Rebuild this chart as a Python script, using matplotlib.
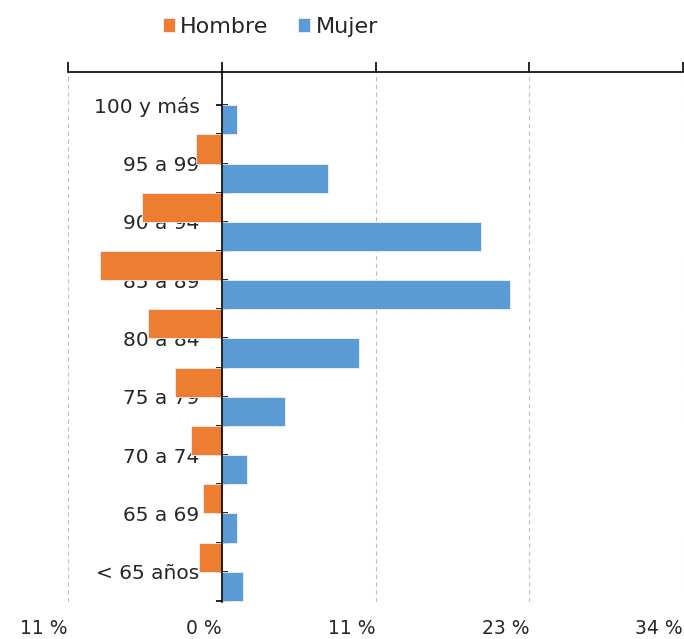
import numpy as np
import matplotlib
matplotlib.use('Agg')
import matplotlib.pyplot as plt
from matplotlib.ticker import FixedLocator, FuncFormatter

grupos = ['< 65 años', '65 a 69', '70 a 74', '75 a 79', '80 a 84',
          '85 a 89', '90 a 94', '95 a 99', '100 y más']
hombre = [1.7, 1.4, 2.3, 3.5, 5.5, 9.0, 5.9, 1.9, 0.0]
mujer = [1.6, 1.1, 1.9, 4.7, 10.2, 21.4, 19.2, 7.9, 1.1]
xticks = [-11.4, 0, 11.4, 22.8, 34.2]

naranja = '#ED7D31'
azul = '#5B9BD5'
texto = '#262626'

plt.rcParams['font.family'] = 'DejaVu Sans'

fig = plt.figure(figsize=(6.84, 6.39), dpi=100)
ax = fig.add_axes([68 / 684, 1 - 602 / 639, 615 / 684, 530 / 639])

y = np.arange(len(grupos))
ax.barh(y + 0.25, -np.array(hombre), height=0.5, color=naranja,
        edgecolor='#f0f0f0', linewidth=0.6, label='Hombre', zorder=2)
ax.barh(y - 0.25, mujer, height=0.5, color=azul,
        edgecolor='#f0f0f0', linewidth=0.6, label='Mujer', zorder=2)

ax.set_xlim(-11.4, 34.2)
ax.set_ylim(-0.52, 8.57)

# spines
ax.spines['right'].set_visible(False)
ax.spines['bottom'].set_visible(False)
ax.spines['left'].set_position(('data', 0))
ax.spines['left'].set_zorder(3)
for s in ['left', 'top']:
    ax.spines[s].set_linewidth(1.2)
    ax.spines[s].set_color('black')

# x axis: ticks on top, labels at bottom
ax.xaxis.set_major_locator(FixedLocator(xticks))
ax.xaxis.set_major_formatter(FuncFormatter(lambda v, p: f'{abs(round(v)):.0f} %'))
ax.tick_params(axis='x', top=True, bottom=False, labeltop=False, labelbottom=True,
               direction='out', length=7, width=1.2, pad=5, labelsize=13.5,
               labelcolor=texto)
for lbl in ax.get_xticklabels():
    lbl.set_horizontalalignment('right')
ax.xaxis.grid(True, color='#bfbfbf', linestyle=(0, (4, 3)), linewidth=0.8)
ax.set_axisbelow(True)

# y axis
ax.set_yticks(y)
ax.set_yticklabels(grupos)
ax.yaxis.set_minor_locator(FixedLocator(y - 0.5))
ax.tick_params(axis='y', which='both', direction='inout', length=8, width=1.2)
ax.tick_params(axis='y', which='major', pad=12, labelsize=14.5, labelcolor=texto)
for lbl in ax.get_yticklabels():
    lbl.set_zorder(4)

fig.legend(handles=ax.get_legend_handles_labels()[0],
           labels=['Hombre', 'Mujer'], loc='center', bbox_to_anchor=(0.395, 1 - 27 / 639),
           ncol=2, frameon=False, fontsize=16, handlelength=0.55, handleheight=0.55,
           handletextpad=0.25, columnspacing=1.3, labelcolor=texto)

fig.savefig('out.png', dpi=100)
